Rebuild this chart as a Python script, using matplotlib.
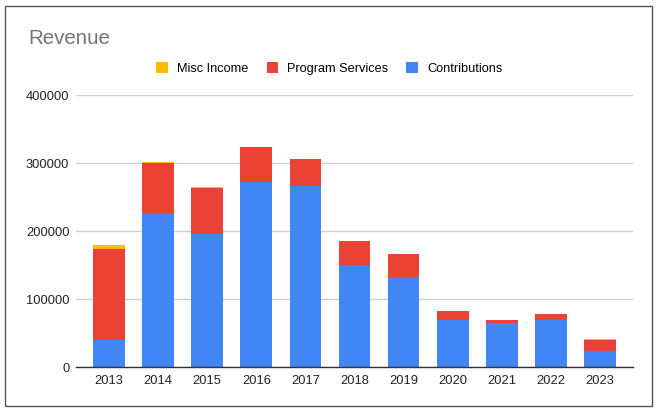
import matplotlib
matplotlib.use("Agg")
import matplotlib.pyplot as plt
from matplotlib.patches import Patch, Rectangle

years = ["2013", "2014", "2015", "2016", "2017", "2018", "2019", "2020", "2021", "2022", "2023"]
contributions = [40200, 226600, 195100, 272000, 265700, 149700, 132000, 69800, 64000, 68500, 24100]
program_services = [133200, 74000, 67600, 51800, 40800, 35100, 33500, 12900, 5500, 8800, 16300]
misc_income = [6000, 500, 2500, 0, 0, 1200, 0, 0, 0, 0, 800]
yticks = [0, 100000, 200000, 300000, 400000]

C_BLUE = "#4285F4"
C_RED = "#EA4335"
C_YEL = "#FBBC04"

plt.rcParams["font.family"] = ["Liberation Sans", "DejaVu Sans"]

fig = plt.figure(figsize=(6.59, 4.15), dpi=100)
ax = fig.add_axes([76/659, 1-367/415, (633-76)/659, (367-95)/415])

x = list(range(len(years)))
w = 0.645
ax.bar(x, contributions, width=w, color=C_BLUE, zorder=2)
bottom2 = contributions
ax.bar(x, program_services, width=w, bottom=bottom2, color=C_RED, zorder=2)
bottom3 = [a + b for a, b in zip(contributions, program_services)]
ax.bar(x, misc_income, width=w, bottom=bottom3, color=C_YEL, zorder=2)

ax.set_xlim(-0.672, len(years) - 1 + 0.672)
ax.set_ylim(0, 400000)
ax.set_yticks(yticks)
ax.set_yticklabels([str(v) for v in yticks])
ax.set_xticks(x)
ax.set_xticklabels(years)
ax.tick_params(axis="both", length=0, labelsize=9.3, colors="#222222")
ax.tick_params(axis="y", pad=4.8)
ax.tick_params(axis="x", pad=6)
ax.grid(axis="y", color="#d0d0d0", linewidth=1, zorder=0)
for s in ["top", "right", "left"]:
    ax.spines[s].set_visible(False)
ax.spines["bottom"].set_color("#333333")
ax.spines["bottom"].set_linewidth(1)
ax.spines["bottom"].set_zorder(3)

fig.text(28.5/659, 1-44/415, "Revenue", fontsize=14.8, color="#757575", ha="left", va="baseline")

handles = [Patch(facecolor=C_YEL, label="Misc Income"),
           Patch(facecolor=C_RED, label="Program Services"),
           Patch(facecolor=C_BLUE, label="Contributions")]
fig.legend(handles=handles, loc="center", bbox_to_anchor=(329.5/659, 1-68.5/415), ncol=3,
           frameon=False, fontsize=9.2, handlelength=0.9, handleheight=0.9,
           handletextpad=0.73, columnspacing=1.4, borderpad=0, borderaxespad=0)

fig.patches.append(Rectangle((5/659, 1-406/415), (652-5)/659, (406-6)/415,
                             transform=fig.transFigure, fill=False, edgecolor="#555555", linewidth=1))

fig.savefig("out.png", dpi=100)
